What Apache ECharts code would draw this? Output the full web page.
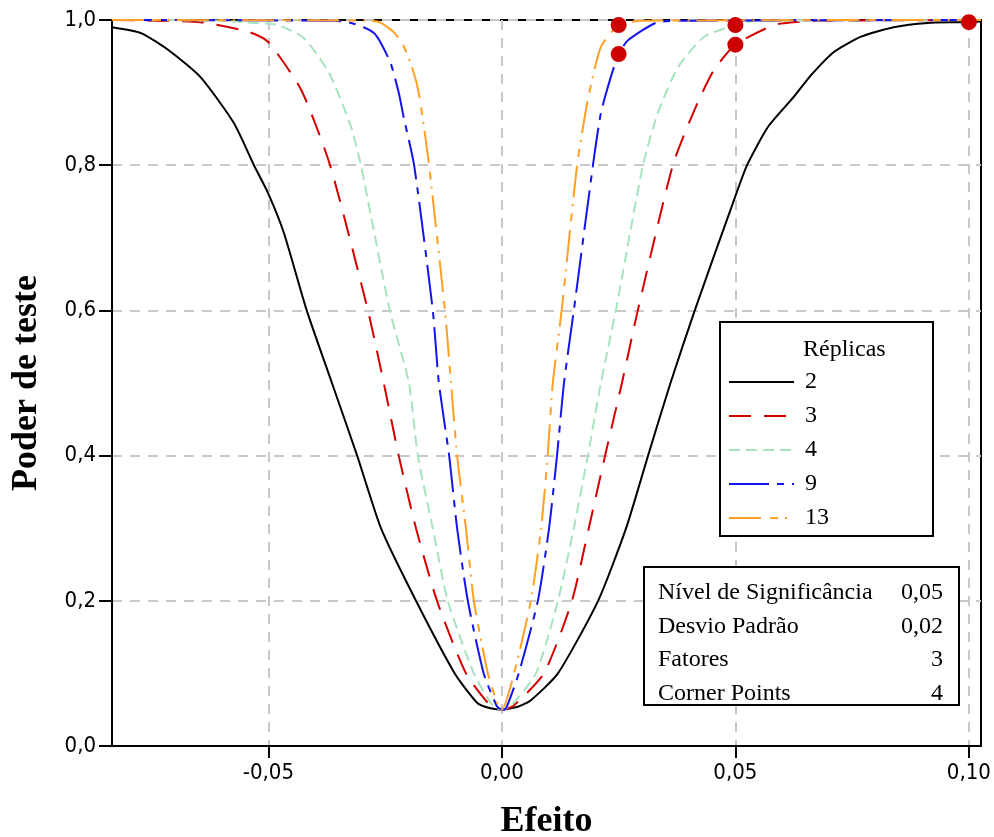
<!DOCTYPE html>
<html>
<head>
<meta charset="utf-8">
<title>Poder de teste</title>
<script src="https://cdn.jsdelivr.net/npm/echarts@6/dist/echarts.min.js"></script>
<style>
  html, body { margin: 0; padding: 0; background: #fff; }
  #chart { width: 994px; height: 837px; }
</style>
</head>
<body>
<div id="chart"></div>
<script>
// Power curves (Poder de teste) versus effect size, one curve per number of replicates
const replicas = ['2', '3', '4', '9', '13'];

const effect2 = [-0.0835, -0.0773, -0.0715, -0.0645, -0.0574, -0.0531, -0.0501, -0.0467, -0.0418, -0.0364, -0.031, -0.0259, -0.0184, -0.0101, -0.0052, -0.0024, 0,
  0.0034, 0.0062, 0.012, 0.0206, 0.0266, 0.0313, 0.0361, 0.0413, 0.0497, 0.0525, 0.057, 0.0625, 0.0662, 0.0711, 0.0769, 0.0839, 0.0912, 0.0983, 0.1026];
const power2 = [0.99, 0.982, 0.959, 0.921, 0.858, 0.80, 0.762, 0.707, 0.60, 0.50, 0.40, 0.30, 0.20, 0.10, 0.059, 0.052, 0.05,
  0.054, 0.063, 0.10, 0.20, 0.30, 0.40, 0.50, 0.60, 0.752, 0.80, 0.853, 0.894, 0.924, 0.956, 0.977, 0.99, 0.996, 0.997, 0.998];

const effect3 = [-0.0835, -0.075, -0.0645, -0.0544, -0.0501, -0.043, -0.0368, -0.0287, -0.0253, -0.0221, -0.0184, -0.0139, -0.0077, -0.0024, 0,
  0.0024, 0.009, 0.015, 0.0186, 0.0221, 0.0257, 0.0291, 0.0366, 0.0415, 0.0454, 0.05, 0.0582, 0.0625, 0.068, 0.1026];
const power3 = [1.0, 0.999, 0.997, 0.984, 0.97, 0.904, 0.80, 0.60, 0.50, 0.40, 0.30, 0.20, 0.10, 0.055, 0.05,
  0.055, 0.10, 0.20, 0.30, 0.40, 0.50, 0.60, 0.80, 0.88, 0.931, 0.966, 0.993, 0.997, 0.999, 1.0];

const effect4 = [-0.0835, -0.06, -0.0531, -0.048, -0.0424, -0.037, -0.0323, -0.0302, -0.024, -0.0199, -0.018, -0.0148, -0.0116, -0.006, -0.0019, 0,
  0.0019, 0.0073, 0.012, 0.0154, 0.0184, 0.0212, 0.0244, 0.0302, 0.0334, 0.0377, 0.0433, 0.05, 0.0533, 0.06, 0.1026];
const power4 = [1.0, 0.999, 0.996, 0.993, 0.975, 0.927, 0.853, 0.80, 0.60, 0.50, 0.40, 0.30, 0.20, 0.10, 0.055, 0.05,
  0.055, 0.10, 0.20, 0.30, 0.40, 0.50, 0.60, 0.80, 0.872, 0.935, 0.977, 0.993, 0.998, 0.999, 1.0];

const effect9 = [-0.0835, -0.036, -0.0323, -0.0296, -0.0274, -0.0259, -0.0238, -0.0221, -0.021, -0.0188, -0.0148, -0.0135, -0.0113, -0.0096, -0.0073, -0.0039, -0.0011, 0,
  0.0009, 0.0036, 0.0077, 0.0101, 0.0118, 0.0133, 0.0154, 0.0195, 0.0212, 0.0233, 0.025, 0.027, 0.0334, 0.04, 0.1026];
const power9 = [1.0, 0.999, 0.996, 0.99, 0.982, 0.968, 0.94, 0.90, 0.865, 0.80, 0.60, 0.50, 0.40, 0.30, 0.20, 0.10, 0.055, 0.05,
  0.052, 0.10, 0.20, 0.30, 0.40, 0.50, 0.60, 0.80, 0.872, 0.921, 0.953, 0.972, 0.997, 0.999, 1.0];

const effect13 = [-0.0835, -0.028, -0.0259, -0.0231, -0.0212, -0.0195, -0.018, -0.0169, -0.0156, -0.0122, -0.0109, -0.0096, -0.0077, -0.006, -0.003, -0.0006, 0,
  0.0026, 0.0062, 0.0084, 0.0098, 0.0109, 0.0128, 0.0161, 0.0184, 0.0212, 0.025, 0.0298, 0.1026];
const power13 = [1.0, 0.999, 0.996, 0.983, 0.966, 0.94, 0.906, 0.862, 0.80, 0.60, 0.50, 0.40, 0.30, 0.20, 0.10, 0.052, 0.05,
  0.10, 0.20, 0.30, 0.40, 0.50, 0.60, 0.80, 0.89, 0.963, 0.993, 0.999, 1.0];

// highlighted design points
const pointEffect = [0.025, 0.025, 0.05, 0.05, 0.1];
const pointPower = [0.993, 0.953, 0.993, 0.966, 0.997];

const xTicks = [-0.05, 0, 0.05, 0.1];

const infoLabels = ['Nível de Significância', 'Desvio Padrão', 'Fatores', 'Corner Points'];
const infoValues = ['0,05', '0,02', '3', '4'];

const curves = [
  { x: effect2, y: power2, color: '#000000', dash: 'solid' },
  { x: effect3, y: power3, color: '#d40000', dash: [22, 13] },
  { x: effect4, y: power4, color: '#a6e3bf', dash: [11, 6] },
  { x: effect9, y: power9, color: '#1414ee', dash: [40, 8, 7, 8] },
  { x: effect13, y: power13, color: '#ffa024', dash: [32, 9, 8, 7, 2, 7] }
];

const pairs = (xs, ys) => xs.map((v, i) => [v, ys[i]]);
const comma = (v, d) => v.toFixed(d).replace('.', ',');

const tickFont = 'DejaVu Sans Condensed, DejaVu Sans, sans-serif';
const serif = 'Liberation Serif, Times New Roman, serif';

const series = curves.map((c, i) => ({
  name: replicas[i],
  type: 'line',
  data: pairs(c.x, c.y),
  symbol: 'none',
  smooth: 0.2,
  lineStyle: { color: c.color, width: 2, type: c.dash },
  itemStyle: { color: c.color },
  z: 2 + i
}));

series.push({
  name: 'pontos',
  type: 'scatter',
  data: pairs(pointEffect, pointPower),
  symbol: 'circle',
  symbolSize: 16,
  itemStyle: { color: '#cc0000', opacity: 1 },
  clip: true,
  z: 9
});

// legend frame and parameter table
const graphics = [
  { type: 'rect', shape: { x: 720, y: 322, width: 213, height: 214 },
    style: { fill: '#fff', stroke: '#000', lineWidth: 2 }, z: 20 },
  { type: 'text', x: 803, y: 350,
    style: { text: 'Réplicas', font: '24px ' + serif, fill: '#000', verticalAlign: 'middle' }, z: 21 },
  { type: 'rect', shape: { x: 644, y: 567, width: 315, height: 138 },
    style: { fill: '#fff', stroke: '#000', lineWidth: 2 }, z: 20 }
];
infoLabels.forEach((label, i) => {
  const y = 593 + i * 33.6;
  graphics.push({ type: 'text', x: 658, y: y,
    style: { text: label, font: '24px ' + serif, fill: '#000', verticalAlign: 'middle' }, z: 21 });
  graphics.push({ type: 'text', x: 943, y: y,
    style: { text: infoValues[i], font: '24px ' + serif, fill: '#000', align: 'right', verticalAlign: 'middle' }, z: 21 });
});

const chart = echarts.init(document.getElementById('chart'), null, { renderer: 'canvas' });
chart.setOption({
  animation: false,
  backgroundColor: '#fff',
  grid: {
    left: 112, right: 13, top: 20, bottom: 91,
    show: true, borderColor: '#000', borderWidth: 2,
    outerBoundsMode: 'none'
  },
  xAxis: {
    type: 'value',
    min: -0.0835,
    max: 0.1026,
    name: 'Efeito',
    nameLocation: 'middle',
    nameGap: 58,
    nameTextStyle: { fontFamily: serif, fontWeight: 'bold', fontSize: 36, color: '#000' },
    axisLine: { show: true, onZero: false, lineStyle: { color: '#000', width: 2 } },
    axisTick: { show: true, customValues: xTicks, length: 12, lineStyle: { color: '#000', width: 2 } },
    axisLabel: { customValues: xTicks, formatter: v => comma(v, 2), fontFamily: tickFont, fontSize: 22, color: '#000', margin: 16 },
    splitLine: { show: true, lineStyle: { color: '#c8c8c8', width: 2, type: [10, 8] } }
  },
  yAxis: {
    type: 'value',
    min: 0,
    max: 1,
    interval: 0.2,
    name: 'Poder de teste',
    nameLocation: 'middle',
    nameGap: 67,
    nameTextStyle: { fontFamily: serif, fontWeight: 'bold', fontSize: 36, color: '#000' },
    axisLine: { show: true, onZero: false, lineStyle: { color: '#000', width: 2 } },
    axisTick: { show: true, length: 13, lineStyle: { color: '#000', width: 2 } },
    axisLabel: { formatter: v => comma(v, 1), fontFamily: tickFont, fontSize: 22, color: '#000', margin: 16 },
    splitLine: { show: true, lineStyle: { color: '#c8c8c8', width: 2, type: [10, 8] } }
  },
  legend: {
    data: replicas,
    orient: 'vertical',
    left: 728,
    top: 370,
    padding: 0,
    itemWidth: 65,
    itemHeight: 24,
    itemGap: 10,
    selectedMode: false,
    itemStyle: { opacity: 0 },
    textStyle: { fontFamily: serif, fontSize: 24, lineHeight: 24, color: '#000', padding: [0, 0, 0, 6] },
    z: 30
  },
  graphic: graphics,
  series: series
});
</script>
</body>
</html>
